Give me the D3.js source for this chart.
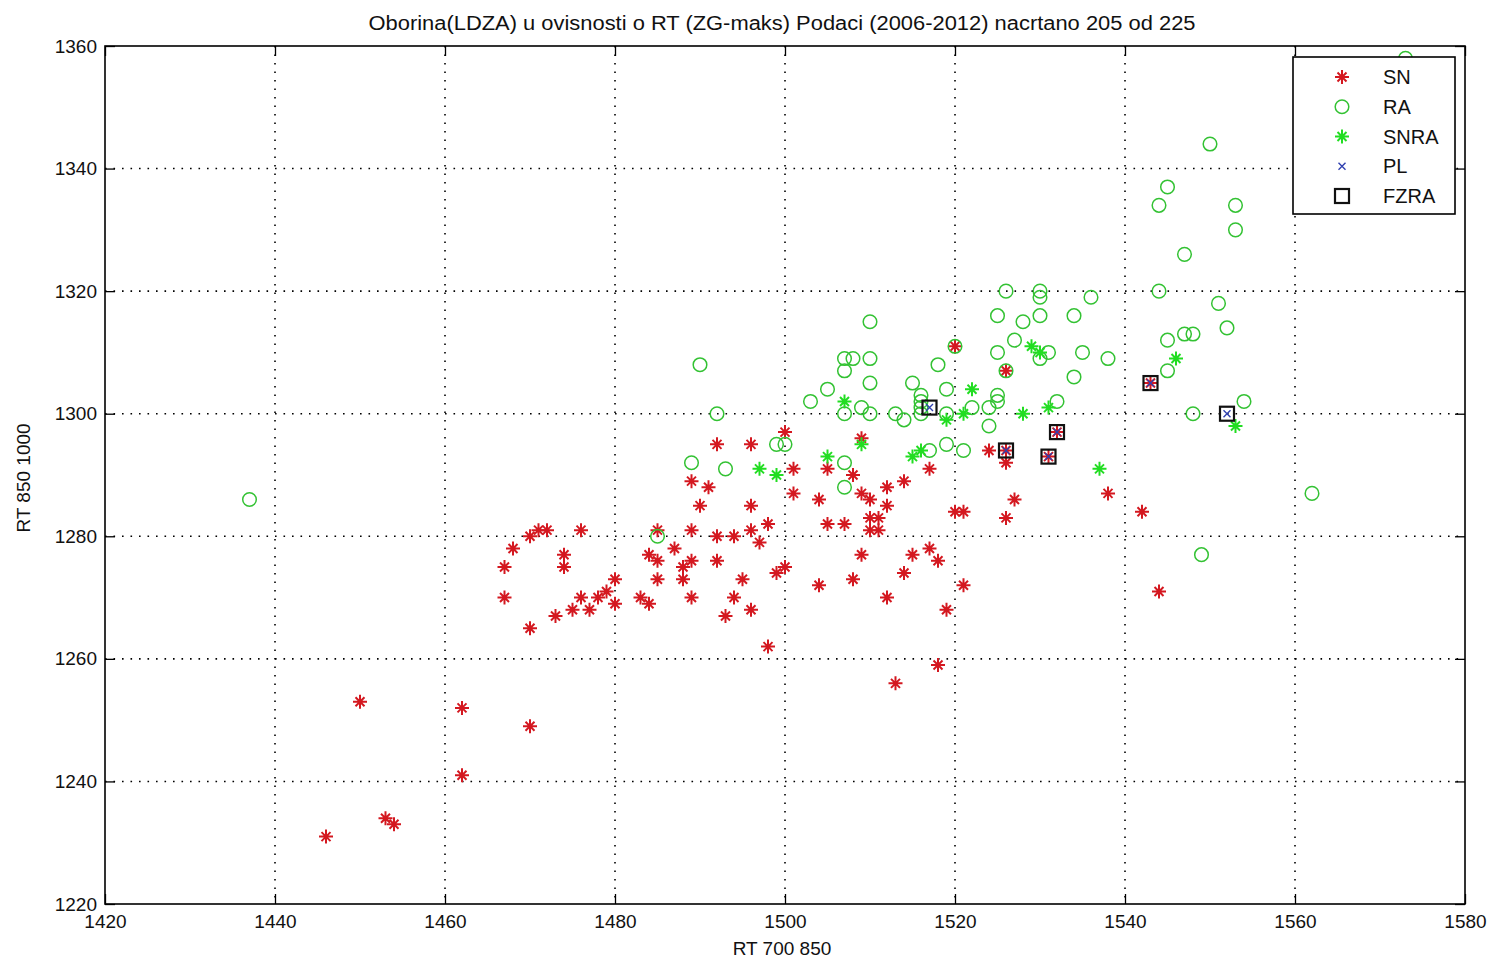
<!DOCTYPE html>
<html><head><meta charset="utf-8">
<script src="https://cdn.jsdelivr.net/npm/d3@7"></script>
<style>body{margin:0;background:#fff}svg{display:block}text{font-family:"Liberation Sans",Arial,sans-serif;fill:#111}</style>
</head><body><svg id="c" width="1490" height="960"></svg>
<script>
const title = "Oborina(LDZA) u ovisnosti o RT (ZG-maks) Podaci (2006-2012) nacrtano 205 od 225";
const xLabel = "RT 700 850", yLabel = "RT 850 1000";
const xTicks = [1420,1440,1460,1480,1500,1520,1540,1560,1580];
const yTicks = [1220,1240,1260,1280,1300,1320,1340,1360];
const legendItems = ["SN","RA","SNRA","PL","FZRA"];

const snPoints = [
[1470,1280],[1471,1281],[1472,1281],[1476,1281],[1468,1278],[1467,1275],[1474,1277],[1474,1275],[1467,1270],[1480,1273],
[1476,1270],[1478,1270],[1479,1271],[1480,1269],[1475,1268],[1477,1268],[1473,1267],[1470,1265],[1483,1270],
[1450,1253],[1462,1252],[1470,1249],[1462,1241],[1446,1231],[1453,1234],[1454,1233],
[1500,1297],[1492,1295],[1496,1295],[1509,1296],[1489,1289],[1491,1288],[1501,1291],[1505,1291],[1508,1290],[1501,1287],
[1504,1286],[1509,1287],[1510,1286],[1512,1288],[1514,1289],[1517,1291],[1512,1285],[1490,1285],[1496,1285],[1498,1282],
[1505,1282],[1507,1282],[1510,1283],[1511,1283],[1510,1281],[1511,1281],[1489,1281],[1485,1281],[1492,1280],[1494,1280],
[1496,1281],[1497,1279],[1484,1277],[1485,1276],[1487,1278],[1489,1276],[1488,1275],[1492,1276],[1485,1273],[1488,1273],
[1495,1273],[1500,1275],[1499,1274],[1504,1272],[1508,1273],[1509,1277],[1515,1277],[1517,1278],[1518,1276],[1514,1274],
[1512,1270],[1484,1269],[1489,1270],[1494,1270],[1496,1268],[1493,1267],[1498,1262],[1518,1259],[1519,1268],[1513,1256],
[1524,1294],[1526,1292],[1538,1287],[1527,1286],[1526,1283],[1520,1284],[1521,1284],[1542,1284],[1544,1271],[1521,1272],
[1520,1311],[1526,1307],[1526,1294],[1531,1293],[1532,1297],[1543,1305]
];
const raPoints = [
[1437,1286],[1573,1358],[1550,1344],[1545,1337],[1544,1334],[1553,1334],[1553,1330],[1547,1326],[1526,1320],[1530,1320],
[1530,1319],[1544,1320],[1536,1319],[1551,1318],[1510,1315],[1525,1316],[1528,1315],[1530,1316],[1534,1316],[1552,1314],
[1527,1312],[1545,1312],[1547,1313],[1548,1313],[1490,1308],[1507,1309],[1508,1309],[1510,1309],[1518,1308],[1525,1310],
[1531,1310],[1530,1309],[1534,1306],[1507,1307],[1510,1305],[1515,1305],[1516,1303],[1519,1304],[1505,1304],[1503,1302],
[1509,1301],[1510,1300],[1507,1300],[1513,1300],[1514,1299],[1516,1301],[1516,1302],[1519,1300],[1522,1301],[1524,1301],
[1525,1303],[1525,1302],[1524,1298],[1532,1302],[1520,1311],[1526,1307],[1492,1300],[1499,1295],[1500,1295],[1489,1292],
[1493,1291],[1507,1292],[1519,1295],[1521,1294],[1549,1277],[1548,1300],[1554,1302],[1562,1287],[1485,1280],[1535,1310],
[1538,1309],[1545,1307],[1517,1294],[1507,1288],[1516,1300]
];
const snraPoints = [
[1507,1302],[1497,1291],[1499,1290],[1505,1293],[1509,1295],[1515,1293],[1516,1294],[1519,1299],[1521,1300],[1522,1304],
[1528,1300],[1531,1301],[1529,1311],[1530,1310],[1546,1309],[1537,1291],[1553,1298]
];
const plPoints = [[1517,1301],[1526,1294],[1531,1293],[1532,1297],[1543,1305],[1552,1300]];
const fzraPoints = [[1517,1301],[1526,1294],[1531,1293],[1532,1297],[1543,1305],[1552,1300]];

const svg = d3.select("#c");
const L=105,R=1465,T=46,B=904;
const x = d3.scaleLinear().domain([1420,1580]).range([L,R]);
const y = d3.scaleLinear().domain([1220,1360]).range([B,T]);
const fmt = d3.format("d");

// grid
const g = svg.append("g");
g.selectAll(".vg").data(xTicks.slice(1,-1)).join("line")
 .attr("x1",d=>x(d)).attr("x2",d=>x(d)).attr("y1",T).attr("y2",B)
 .attr("stroke","#000").attr("stroke-width",1.6).attr("stroke-dasharray","1.6,6.9");
g.selectAll(".hg").data(yTicks.slice(1,-1)).join("line")
 .attr("y1",d=>y(d)).attr("y2",d=>y(d)).attr("x1",L).attr("x2",R)
 .attr("stroke","#000").attr("stroke-width",1.6).attr("stroke-dasharray","1.6,6.9");

// axes with inner ticks on all sides
svg.append("g").attr("transform",`translate(0,${B})`).call(d3.axisBottom(x).tickValues(xTicks).tickFormat(fmt).tickSizeInner(-10).tickSizeOuter(0).tickPadding(8))
 .call(a=>{a.select(".domain").remove();a.selectAll("text").attr("font-size",19).attr("dy","0.85em");a.selectAll("line").attr("stroke-width",1.3);});
svg.append("g").attr("transform",`translate(0,${T})`).call(d3.axisTop(x).tickValues(xTicks).tickSizeInner(-10).tickSizeOuter(0).tickFormat(""))
 .call(a=>{a.select(".domain").remove();a.selectAll("line").attr("stroke-width",1.3);});
svg.append("g").attr("transform",`translate(${L},0)`).call(d3.axisLeft(y).tickValues(yTicks).tickFormat(fmt).tickSizeInner(-10).tickSizeOuter(0).tickPadding(8))
 .call(a=>{a.select(".domain").remove();a.selectAll("text").attr("font-size",19);a.selectAll("line").attr("stroke-width",1.3);});
svg.append("g").attr("transform",`translate(${R},0)`).call(d3.axisRight(y).tickValues(yTicks).tickSizeInner(-10).tickSizeOuter(0).tickFormat(""))
 .call(a=>{a.select(".domain").remove();a.selectAll("line").attr("stroke-width",1.3);});
svg.append("rect").attr("x",L).attr("y",T).attr("width",R-L).attr("height",B-T).attr("fill","none").attr("stroke","#000").attr("stroke-width",1.6);

// markers
const starPath = "M-7,0L7,0M0,-7L0,7M-4.5,-4.5L4.5,4.5M-4.5,4.5L4.5,-4.5";
const xPath = "M-3.5,-3.5L3.5,3.5M-3.5,3.5L3.5,-3.5";
const pts = svg.append("g");
function stars(data,color){
  pts.append("g").selectAll("path").data(data).join("path")
   .attr("transform",d=>`translate(${x(d[0])},${y(d[1])})`).attr("d",starPath)
   .attr("stroke",color).attr("stroke-width",2).attr("fill","none");
}
stars(snPoints,"#d41820");
pts.append("g").selectAll("circle").data(raPoints).join("circle")
 .attr("cx",d=>x(d[0])).attr("cy",d=>y(d[1])).attr("r",6.8)
 .attr("fill","none").attr("stroke","#33c233").attr("stroke-width",1.5);
stars(snraPoints,"#22dd22");
pts.append("g").selectAll("path").data(plPoints).join("path")
 .attr("transform",d=>`translate(${x(d[0])},${y(d[1])})`).attr("d",xPath)
 .attr("stroke","#3040b0").attr("stroke-width",1.4).attr("fill","none");
pts.append("g").selectAll("rect").data(fzraPoints).join("rect")
 .attr("x",d=>x(d[0])-7).attr("y",d=>y(d[1])-7).attr("width",14).attr("height",14)
 .attr("fill","none").attr("stroke","#111").attr("stroke-width",2.2);

// title & labels
svg.append("text").attr("x",782).attr("y",30).attr("text-anchor","middle").attr("font-size",20)
 .attr("textLength",827).attr("lengthAdjust","spacingAndGlyphs").text(title);
svg.append("text").attr("x",782).attr("y",955).attr("text-anchor","middle").attr("font-size",19).text(xLabel);
svg.append("text").attr("transform","translate(30,478) rotate(-90)").attr("text-anchor","middle").attr("font-size",19).text(yLabel);

// legend
const lg = svg.append("g");
lg.append("rect").attr("x",1293).attr("y",57).attr("width",162).attr("height",157).attr("fill","#fff").attr("stroke","#000").attr("stroke-width",1.6);
const ly = d3.scalePoint().domain(legendItems).range([77,196]);
legendItems.forEach(k=>{
  const cy = ly(k), cx = 1342;
  if(k==="SN"||k==="SNRA") lg.append("path").attr("transform",`translate(${cx},${cy})`).attr("d",starPath).attr("stroke",k==="SN"?"#d41820":"#22dd22").attr("stroke-width",2);
  if(k==="RA") lg.append("circle").attr("cx",cx).attr("cy",cy).attr("r",6.8).attr("fill","none").attr("stroke","#33c233").attr("stroke-width",1.5);
  if(k==="PL") lg.append("path").attr("transform",`translate(${cx},${cy})`).attr("d",xPath).attr("stroke","#3040b0").attr("stroke-width",1.4);
  if(k==="FZRA") lg.append("rect").attr("x",cx-7).attr("y",cy-7).attr("width",14).attr("height",14).attr("fill","none").attr("stroke","#111").attr("stroke-width",2.2);
  lg.append("text").attr("x",1383).attr("y",cy).attr("dy","0.35em").attr("font-size",20).text(k);
});
</script></body></html>
